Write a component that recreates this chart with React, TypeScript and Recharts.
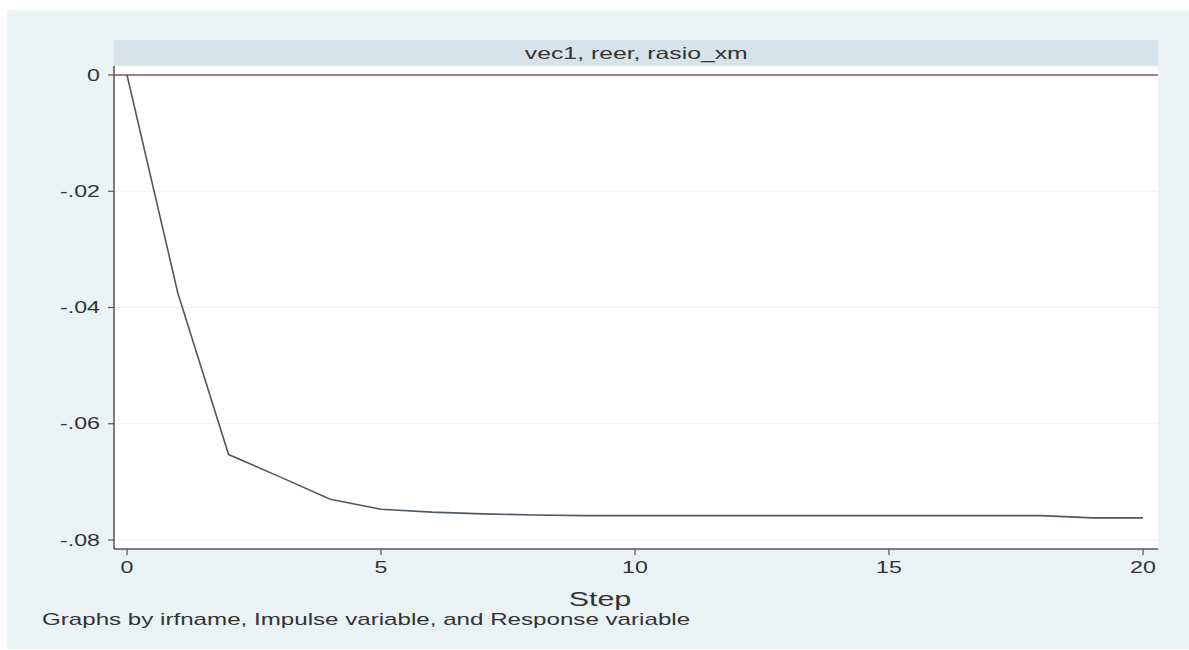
import React from "react";
import { LineChart, Line, XAxis, YAxis, CartesianGrid, ReferenceLine } from "recharts";

// impulse-response values
const steps = [0, 1, 2, 3, 4, 5, 6, 7, 8, 9, 10, 11, 12, 13, 14, 15, 16, 17, 18, 19, 20];
const irfValues = [
  0, -0.0375, -0.0653, -0.0691, -0.073, -0.0747, -0.0752, -0.0755, -0.0757, -0.0758, -0.0758,
  -0.0758, -0.0758, -0.0758, -0.0758, -0.0758, -0.0758, -0.0758, -0.0758, -0.0762, -0.0762,
];
const xTicks = [0, 5, 10, 15, 20];
const yTicks = [0, -0.02, -0.04, -0.06, -0.08];
const panelTitle = "vec1, reer, rasio_xm";
const xTitle = "Step";
const note = "Graphs by irfname, Impulse variable, and Response variable";

const FONT = "'Liberation Sans', Arial, Helvetica, sans-serif";
const SX = 1.45; // the picture is stretched sideways
const TEXT = "#333333";

const data = steps.map((s, i) => ({ step: s, irf: irfValues[i] }));

const fmtY = (v: number) => (v === 0 ? "0" : v.toFixed(2).replace("0.", "."));

const YTick = (props: any) => {
  const { x, y, payload } = props;
  return (
    <text
      transform={`translate(${x},${y}) scale(${SX},1)`}
      textAnchor="end"
      dominantBaseline="central"
      fontSize={16}
      fill={TEXT}
      fontFamily={FONT}
    >
      {fmtY(payload.value)}
    </text>
  );
};

const XTick = (props: any) => {
  const { x, y, payload } = props;
  return (
    <text
      transform={`translate(${x},${y}) scale(${SX},1)`}
      textAnchor="middle"
      dy="1em"
      fontSize={16}
      fill={TEXT}
      fontFamily={FONT}
    >
      {payload.value}
    </text>
  );
};

const StepLabel = () => (
  <text
    transform={`translate(600,606) scale(${SX},1)`}
    textAnchor="middle"
    fontSize={21}
    fill={TEXT}
    fontFamily={FONT}
  >
    {xTitle}
  </text>
);

export default function App() {
  return (
    <div style={{ position: "absolute", left: 0, top: 0, width: 1189, height: 650, background: "#ffffff" }}>
      <div style={{ position: "absolute", left: 7, top: 10, width: 1182, height: 639, background: "#EAF2F3" }} />
      <div
        style={{
          position: "absolute",
          left: 114,
          top: 40,
          width: 1044,
          height: 26,
          background: "#D6E3E8",
          display: "flex",
          alignItems: "center",
          justifyContent: "center",
        }}
      >
        <span
          style={{
            fontFamily: FONT,
            fontSize: 16.5,
            color: TEXT,
            transform: `scale(1.5,1)`,
            display: "inline-block",
          }}
        >
          {panelTitle}
        </span>
      </div>
      <div style={{ position: "absolute", left: 0, top: 0 }}>
        <LineChart width={1189} height={650} data={data} margin={{ top: 66, right: 31, left: 0, bottom: 41 }}>
          <CartesianGrid vertical={false} stroke="#EDF2F3" fill="#ffffff" fillOpacity={1} />
          <XAxis
            dataKey="step"
            type="number"
            domain={[-0.256, 20.295]}
            ticks={xTicks}
            allowDataOverflow
            height={60}
            tickSize={6}
            tickMargin={2}
            tick={<XTick />}
            axisLine={{ stroke: "#555555", strokeWidth: 1.5 }}
            tickLine={{ stroke: "#555555", strokeWidth: 1.2 }}
            label={<StepLabel />}
          />
          <YAxis
            type="number"
            domain={[-0.08155, 0.00155]}
            ticks={yTicks}
            allowDataOverflow
            width={114}
            tickSize={6}
            tickMargin={8}
            tick={<YTick />}
            axisLine={{ stroke: "#555555", strokeWidth: 1.5 }}
            tickLine={{ stroke: "#555555", strokeWidth: 1.2 }}
          />
          <ReferenceLine y={0} stroke="#8A5464" strokeWidth={1.6} ifOverflow="extendDomain" />
          <Line
            type="linear"
            dataKey="irf"
            stroke="#4E5A66"
            strokeWidth={1.6}
            dot={false}
            activeDot={false}
            isAnimationActive={false}
          />
        </LineChart>
      </div>
      <div
        style={{
          position: "absolute",
          left: 42,
          top: 610,
          fontFamily: FONT,
          fontSize: 17,
          color: TEXT,
          transform: `scale(1.42,1)`,
          transformOrigin: "left center",
          whiteSpace: "nowrap",
        }}
      >
        {note}
      </div>
    </div>
  );
}
